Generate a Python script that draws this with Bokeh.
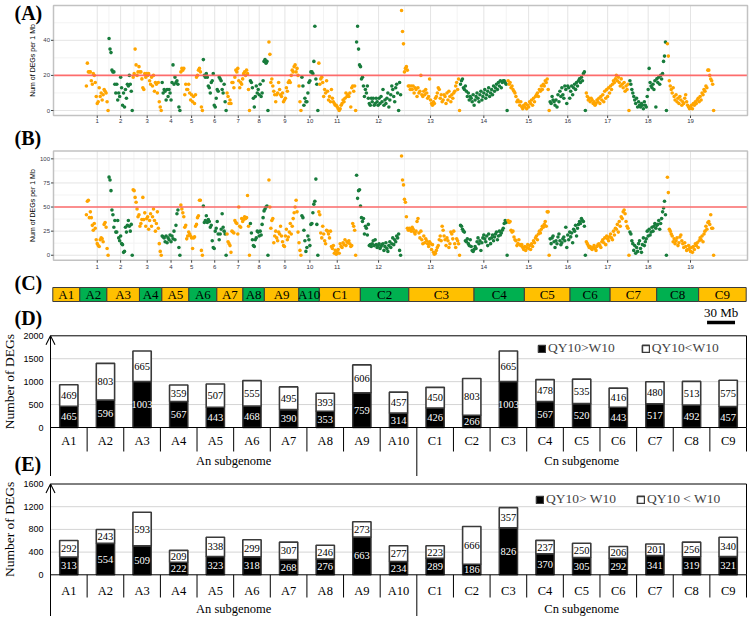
from bokeh.plotting import figure
from bokeh.layouts import column
from bokeh.models import Range1d, Legend, LegendItem, Arrow, OpenHead, ColumnDataSource
from bokeh.core.properties import value
from bokeh.embed import file_html
from bokeh.resources import INLINE

# ---------------- data ----------------
chrom_names = ["A1", "A2", "A3", "A4", "A5", "A6", "A7", "A8", "A9", "A10",
               "C1", "C2", "C3", "C4", "C5", "C6", "C7", "C8", "C9"]
chrom_tick_labels = [str(i) for i in range(1, 20)]
# chromosome lengths (Mb) used on the panels A and B
chrom_len_mb = [23.3, 24.8, 29.8, 19.2, 23.1, 24.4, 24.0, 19.0, 33.9, 17.4,
                38.8, 46.2, 60.6, 48.9, 43.2, 37.2, 44.8, 38.5, 48.5]
# chromosome lengths (Mb) as drawn on the ideogram of panel C
bar_len_mb = [29, 29, 35, 24, 29, 30, 28, 23, 37, 22,
              44, 52, 70, 54, 49, 43, 50, 45, 51]
scale_bar_mb = 30

# (A) number of DEGs per 1 Mb
degs_A = [
    [14, 27, 22, 22, 22, 17, 15, 21, 20, 16, 8, 4, 5, 13, 8, 10, 6, 9, 12, 11, 10, 5, 0],
    [41, 35, 33, 23, 22, 22, 15, 10, 15, 6, 10, 8, 19, 13, 3, 10, 2, 12, 7, 15, 14, 20, 15, 11, 0],
    [19, 21, 35, 26, 20, 22, 25, 22, 22, 18, 13, 12, 21, 19, 21, 20, 21, 17, 15, 19, 14, 20, 11, 16, 15, 10, 16, 5, 2, 0],
    [16, 10, 12, 11, 6, 12, 8, 12, 10, 6, 16, 26, 15, 19, 16, 17, 15, 2, 0],
    [22, 24, 23, 24, 9, 15, 12, 12, 15, 10, 6, 9, 5, 8, 4, 9, 19, 20, 23, 24, 22, 2, 0],
    [29, 20, 19, 21, 19, 14, 13, 10, 16, 17, 21, 3, 2, 7, 12, 11, 19, 18, 17, 12, 10, 15, 5, 0],
    [10, 8, 4, 6, 4, 16, 16, 13, 19, 23, 22, 24, 17, 13, 16, 15, 18, 21, 22, 20, 23, 21, 12, 0],
    [17, 16, 13, 7, 2, 8, 14, 10, 12, 9, 15, 8, 10, 17, 28, 29, 27, 28, 0],
    [39, 32, 16, 18, 14, 11, 9, 5, 9, 10, 16, 12, 9, 8, 10, 5, 6, 7, 13, 11, 16, 17, 16, 20, 23, 22, 25, 26, 22, 24, 20, 14, 5, 0],
    [19, 14, 3, 7, 5, 5, 10, 16, 17, 22, 22, 21, 28, 48, 18, 15, 0],
    [27, 15, 18, 19, 16, 8, 12, 10, 17, 11, 6, 8, 5, 12, 7, 5, 4, 3, 3, 2, 1, 0, 1, 3, 4, 6, 5, 7, 10, 8, 9, 8, 10, 2, 13, 14, 11, 14, 0],
    [39, 48, 35, 26, 25, 18, 19, 14, 8, 12, 10, 14, 7, 4, 3, 7, 5, 7, 3, 4, 7, 5, 3, 7, 4, 8, 5, 12, 3, 6, 4, 7, 10, 2, 6, 9, 14, 12, 8, 5, 13, 15, 10, 0, 16, 9],
    [57, 45, 38, 22, 24, 25, 23, 14, 14, 12, 14, 12, 14, 10, 13, 12, 8, 13, 10, 11, 20, 9, 8, 11, 9, 12, 10, 7, 8, 18, 6, 4, 3, 5, 4, 7, 8, 10, 13, 12, 7, 9, 5, 6, 9, 8, 4, 10, 6, 11, 8, 5, 9, 7, 10, 11, 14, 16, 12, 18, 0],
    [15, 17, 18, 13, 12, 14, 11, 8, 10, 6, 8, 7, 5, 9, 3, 6, 8, 10, 7, 5, 9, 11, 6, 8, 10, 12, 7, 9, 11, 13, 8, 10, 12, 9, 14, 11, 13, 15, 12, 16, 14, 17, 13, 16, 17, 17, 16, 15, 0],
    [17, 15, 16, 13, 14, 12, 11, 10, 8, 5, 6, 5, 3, 5, 2, 1, 3, 2, 4, 1, 3, 2, 5, 4, 6, 3, 7, 5, 8, 9, 10, 8, 12, 11, 14, 12, 15, 14, 17, 16, 18, 12, 0],
    [5, 4, 8, 6, 5, 3, 6, 2, 9, 5, 11, 8, 13, 9, 7, 14, 12, 4, 14, 13, 7, 11, 14, 9, 13, 15, 12, 16, 14, 17, 18, 16, 19, 17, 21, 22, 0],
    [10, 8, 6, 7, 5, 7, 6, 4, 5, 3, 4, 6, 5, 7, 4, 8, 6, 9, 5, 11, 7, 12, 8, 13, 10, 14, 12, 15, 17, 16, 18, 20, 17, 19, 16, 14, 18, 15, 13, 16, 11, 14, 12, 15, 0],
    [17, 15, 12, 10, 8, 6, 4, 7, 2, 5, 3, 2, 4, 3, 1, 5, 3, 2, 8, 12, 24, 16, 14, 13, 15, 12, 17, 2, 18, 16, 19, 15, 20, 18, 21, 28, 31, 39, 0],
    [38, 31, 17, 14, 12, 10, 13, 8, 6, 9, 5, 7, 4, 8, 6, 3, 5, 4, 7, 9, 5, 3, 2, 1, 2, 3, 1, 4, 3, 5, 4, 6, 7, 5, 8, 6, 10, 9, 12, 11, 14, 13, 23, 23, 20, 18, 17, 15, 0],
]
threshold_A = 20

# (B) number of DEGs per 1 Mb
degs_B = [
    [42, 56, 57, 39, 45, 39, 31, 26, 33, 28, 16, 12, 10, 9, 16, 18, 17, 14, 32, 34, 29, 7, 0],
    [81, 78, 67, 47, 42, 29, 36, 24, 24, 36, 18, 15, 20, 12, 11, 3, 4, 29, 24, 31, 36, 30, 25, 32, 0],
    [68, 67, 60, 55, 48, 40, 42, 30, 33, 37, 60, 37, 44, 30, 38, 40, 27, 36, 43, 30, 40, 48, 36, 25, 33, 45, 28, 12, 4, 0],
    [20, 19, 18, 14, 20, 13, 18, 16, 21, 14, 20, 17, 25, 16, 31, 43, 47, 8, 0],
    [52, 48, 44, 40, 29, 31, 17, 20, 24, 22, 20, 18, 7, 18, 19, 30, 32, 39, 41, 57, 57, 5, 0],
    [51, 34, 36, 41, 34, 37, 35, 29, 31, 15, 8, 7, 25, 28, 35, 22, 16, 22, 27, 43, 29, 25, 22, 0],
    [22, 14, 12, 10, 3, 25, 24, 23, 36, 34, 33, 22, 50, 30, 29, 38, 35, 37, 40, 38, 39, 62, 30, 0],
    [33, 23, 16, 10, 9, 16, 18, 25, 24, 20, 25, 21, 32, 39, 46, 48, 50, 51, 0],
    [78, 50, 28, 36, 38, 13, 20, 25, 18, 15, 24, 22, 30, 20, 14, 10, 9, 20, 27, 16, 19, 24, 33, 22, 30, 38, 44, 50, 57, 45, 24, 13, 5, 0],
    [41, 39, 26, 15, 4, 8, 20, 16, 10, 32, 33, 44, 53, 56, 79, 32, 0],
    [45, 42, 23, 18, 30, 22, 15, 12, 26, 25, 22, 18, 25, 9, 7, 10, 2, 5, 1, 3, 6, 2, 12, 9, 8, 13, 11, 16, 10, 14, 13, 15, 12, 9, 10, 33, 30, 26, 0],
    [83, 59, 67, 68, 51, 39, 35, 38, 22, 30, 28, 21, 32, 10, 11, 9, 12, 15, 10, 16, 11, 8, 10, 12, 7, 9, 11, 12, 5, 9, 13, 7, 4, 10, 14, 8, 12, 18, 11, 16, 14, 20, 18, 22, 5, 0],
    [103, 78, 73, 58, 55, 40, 28, 26, 28, 27, 25, 29, 27, 24, 22, 25, 35, 38, 23, 18, 25, 16, 12, 20, 13, 17, 15, 12, 9, 14, 12, 6, 11, 3, 1, 2, 5, 8, 10, 16, 20, 15, 30, 26, 20, 16, 10, 18, 15, 8, 12, 24, 22, 17, 25, 12, 8, 17, 15, 12, 0],
    [31, 30, 27, 25, 24, 15, 14, 17, 12, 10, 16, 9, 5, 4, 6, 9, 7, 14, 18, 12, 15, 5, 13, 18, 21, 17, 14, 20, 10, 22, 17, 12, 18, 21, 15, 19, 22, 24, 16, 20, 25, 21, 23, 26, 28, 33, 36, 34, 0],
    [36, 34, 35, 26, 24, 25, 19, 16, 15, 10, 12, 16, 11, 10, 11, 8, 6, 9, 5, 8, 11, 7, 10, 6, 12, 9, 15, 13, 18, 20, 16, 22, 25, 23, 27, 30, 29, 32, 35, 30, 45, 45, 0],
    [17, 12, 18, 20, 14, 8, 15, 12, 19, 22, 15, 11, 13, 17, 19, 15, 29, 8, 21, 16, 24, 19, 23, 13, 27, 25, 31, 20, 28, 32, 35, 33, 38, 36, 35, 30, 0],
    [14, 12, 10, 8, 9, 7, 6, 8, 10, 7, 5, 9, 11, 12, 10, 8, 14, 16, 13, 18, 11, 20, 17, 15, 19, 22, 18, 16, 25, 21, 28, 27, 32, 24, 35, 30, 40, 38, 45, 47, 43, 35, 30, 28, 0],
    [24, 22, 15, 12, 5, 10, 2, 8, 4, 12, 15, 7, 3, 11, 18, 10, 14, 17, 25, 20, 27, 21, 24, 29, 25, 30, 33, 28, 31, 32, 36, 27, 33, 38, 45, 49, 56, 42, 0],
    [81, 65, 27, 25, 22, 20, 14, 17, 12, 15, 18, 10, 13, 19, 21, 15, 12, 8, 13, 9, 5, 6, 10, 7, 4, 8, 3, 9, 6, 12, 10, 13, 8, 15, 18, 16, 20, 14, 22, 25, 30, 27, 34, 35, 32, 42, 28, 28, 0],
]
threshold_B = 50

# (D) DEGs per chromosome
d_up = [465, 596, 1003, 567, 443, 468, 390, 353, 759, 314, 426, 266, 1003, 567, 520, 443, 517, 492, 457]
d_down = [469, 803, 665, 359, 507, 555, 495, 393, 606, 457, 450, 803, 665, 478, 535, 416, 480, 513, 575]
# (E) DEGs per chromosome
e_up = [313, 554, 509, 222, 323, 318, 268, 276, 663, 234, 289, 186, 826, 370, 305, 292, 341, 319, 321]
e_down = [292, 243, 593, 209, 338, 299, 307, 246, 273, 277, 223, 666, 357, 237, 250, 206, 201, 256, 340]

subgenomes = ["An subgenome", "Cn subgenome"]
n_A = 10

# ---------------- style ----------------
WC = 749
ORANGE = "#FFA500"
GREEN = "#187C3C"
GOLD = "#FFC000"
XLGREEN = "#00B050"
SERIF = "Liberation Serif"
SANS = "Liberation Sans"


def make_fig(H, xv0, xp0, xv1, xp1, yv0, yp0, yv1, yp1):
    """Figure whose frame fills the canvas; data value xv0 sits at pixel xp0 etc."""
    kx = (xp1 - xp0) / (xv1 - xv0)
    x_start = xv0 - xp0 / kx
    ky = (yp0 - yp1) / (yv1 - yv0)
    y_top = yv0 + yp0 / ky
    p = figure(width=WC, height=H, output_backend="svg", toolbar_location=None,
               x_range=Range1d(x_start, x_start + WC / kx),
               y_range=Range1d(y_top - H / ky, y_top),
               x_axis_location=None, y_axis_location=None,
               min_border_left=0, min_border_right=0, min_border_top=0,
               min_border_bottom=0)
    p.outline_line_color = None
    p.grid.visible = False
    X = lambda px: x_start + px / kx
    Y = lambda py: y_top - py / ky
    return p, X, Y


def tag(p, X, Y, text, px, py):
    p.text(x=[X(px)], y=[Y(py)], text=[text], text_font=value(SERIF),
           text_font_size="20px", text_font_style="bold", text_align="left",
           text_baseline="middle", text_color="black")


# ---------------- scatter panels ----------------
cum = [0.0]
for L in chrom_len_mb:
    cum.append(cum[-1] + L)
total = cum[-1]
centers = [cum[k] + chrom_len_mb[k] / 2 for k in range(len(chrom_len_mb))]
mids = [(centers[k] + centers[k + 1]) / 2 for k in range(len(centers) - 1)]


def scatter_panel(data, H, ylo, yp_lo, yhi, yp_hi, yticks, yminor, thr,
                  tag_text, tag_py, xlab_py):
    p, X, Y = make_fig(H, 0, 85.4, total, 713.6, ylo, yp_lo, yhi, yp_hi)
    pl, pr = X(53), X(747)
    grid_minor = "#f3f3f3"
    grid_major = "#e4e4e4"
    p.segment(x0=mids, y0=ylo, x1=mids, y1=yhi, line_color=grid_minor, line_width=1)
    p.segment(x0=pl, y0=yminor, x1=pr, y1=yminor, line_color=grid_minor, line_width=1)
    p.segment(x0=centers, y0=ylo, x1=centers, y1=yhi, line_color=grid_major, line_width=1)
    p.segment(x0=pl, y0=yticks, x1=pr, y1=yticks, line_color=grid_major, line_width=1)
    for k, vals in enumerate(data):
        n = len(vals)
        L = chrom_len_mb[k]
        xs = [cum[k] + (i + 0.5) * L / n for i in range(n)]
        p.scatter(xs, vals, size=3.6, fill_color=ORANGE if k % 2 == 0 else GREEN,
                  line_color=None)
    p.segment(x0=[pl], y0=[thr], x1=[pr], y1=[thr], line_color="#ff5e5e",
              line_width=1.6, line_alpha=0.9)
    p.quad(left=[pl], right=[pr], bottom=[ylo], top=[yhi], fill_color=None,
           line_color="#c2c2c2", line_width=1.5)
    # y axis
    p.segment(x0=X(50.5), y0=yticks, x1=pl, y1=yticks, line_color="#444444", line_width=1)
    p.text(x=X(49.5), y=yticks, text=[f"{t:g}" for t in yticks], text_font=value(SANS),
           text_font_size="6px", text_align="right", text_baseline="middle",
           text_color="#3a3a4a")
    p.text(x=[X(32)], y=[(ylo + yhi) / 2], text=["Num of DEGs per 1 Mb"],
           text_font=value(SANS), text_font_size="7px", angle=90, angle_units="deg",
           text_align="center", text_baseline="middle", text_color="black")
    # x axis
    p.segment(x0=centers, y0=ylo, x1=centers, y1=Y(yp_lo + 2.5), line_color="#444444",
              line_width=1)
    p.text(x=centers, y=Y(xlab_py), text=chrom_tick_labels, text_font=value(SANS),
           text_font_size="6px", text_align="center", text_baseline="middle",
           text_color="#333344")
    tag(p, X, Y, tag_text, 14, tag_py)
    return p


pA = scatter_panel(degs_A, 126, -2.85, 115, 59.85, 5, [0, 20, 40], [10, 30, 50],
                   threshold_A, "(A)", 12, 120)
pB = scatter_panel(degs_B, 146, -5.15, 133.7, 108.15, 24.5, [0, 25, 50, 75, 100],
                   [12.5, 37.5, 62.5, 87.5], threshold_B, "(B)", 11, 140.5)

# ---------------- ideogram (C) ----------------
bcum = [0]
for L in bar_len_mb:
    bcum.append(bcum[-1] + L)
btotal = bcum[-1]
pC, XC, YC = make_fig(58, 0, 52.3, btotal, 745.7, 0, 58, 58, 0)
csrc = ColumnDataSource(dict(
    left=bcum[:-1], right=bcum[1:],
    mid=[(a + b) / 2 for a, b in zip(bcum[:-1], bcum[1:])],
    name=chrom_names,
    color=[GOLD if k % 2 == 0 else XLGREEN for k in range(len(bar_len_mb))]))
pC.quad(left="left", right="right", bottom=YC(29), top=YC(15), fill_color="color",
        line_color="#3c3c3c", line_width=1, source=csrc)
pC.text(x="mid", y=YC(22), text="name", source=csrc, text_font=value(SERIF),
        text_font_size="13px", text_align="center", text_baseline="middle",
        text_color="black")
sb_end = btotal - 12
pC.segment(x0=[sb_end - scale_bar_mb], y0=[YC(50)], x1=[sb_end], y1=[YC(50)],
           line_color="black", line_width=3.5)
pC.text(x=[sb_end - scale_bar_mb / 2], y=[YC(40)], text=[f"{scale_bar_mb} Mb"],
        text_font=value(SERIF), text_font_size="13px", text_align="center",
        text_baseline="middle", text_color="black")
tag(pC, XC, YC, "(C)", 14, 10.5)
tag(pC, XC, YC, "(D)", 14, 45)


# ---------------- stacked bar panels (D, E) ----------------
def bar_panel(up, down, ymax, step, H, yp0, yp_max, lab_py, grp_py, tick_py,
              leg_labels, leg_loc, leg_spacing):
    n = len(up)
    p, X, Y = make_fig(H, 0, 50, n, 746, 0, yp0, ymax, yp_max)
    ybot = Y(H)
    grid = list(range(step, ymax, step))
    p.segment(x0=0, y0=grid, x1=n, y1=grid, line_color="#d4d4d4", line_width=1)

    src = ColumnDataSource(dict(
        x=[i + 0.5 for i in range(n)], up=up, total=[a + b for a, b in zip(up, down)],
        up_mid=[a / 2 for a in up], down_mid=[a + b / 2 for a, b in zip(up, down)],
        up_lab=[str(a) for a in up], down_lab=[str(b) for b in down],
        name=chrom_names))
    r_up = p.vbar(x="x", bottom=0, top="up", width=0.5, fill_color="black",
                  line_color="#3a3a3a", line_width=1.4, source=src)
    r_dn = p.vbar(x="x", bottom="up", top="total", width=0.5, fill_color="white",
                  line_color="#3a3a3a", line_width=1.6, source=src)
    p.text(x="x", y="up_mid", text="up_lab", source=src, text_font=value(SERIF),
           text_font_size="10.5px", text_align="center", text_baseline="middle",
           text_color="white")
    p.text(x="x", y="down_mid", text="down_lab", source=src, text_font=value(SERIF),
           text_font_size="10.5px", text_align="center", text_baseline="middle",
           text_color="black")
    # plot-area lines: top, right, baseline, y axis
    p.segment(x0=[0, n, 0, 0], y0=[ymax, 0, 0, ybot], x1=[n, n, n, 0],
              y1=[ymax, ymax, 0, ymax], line_color="black", line_width=1)
    # y axis tick labels
    yt = list(range(0, ymax + 1, step))
    p.text(x=X(43), y=yt, text=[str(t) for t in yt], text_font=value(SANS),
           text_font_size="9px", text_align="right", text_baseline="middle",
           text_color="black")
    p.text(x=[X(9)], y=[ymax / 2], text=["Number of DEGs"], text_font=value(SERIF),
           text_font_size="13.5px", angle=90, angle_units="deg", text_align="center",
           text_baseline="middle", text_color="black")
    # category separators
    x0s, y1s = [], []
    for b in range(1, n + 1):
        x0s.append(b)
        y1s.append(ybot if b == n_A else Y(tick_py))
    p.segment(x0=x0s, y0=0, x1=x0s, y1=y1s, line_color="black", line_width=1)
    p.text(x="x", y=Y(lab_py), text="name", source=src, text_font=value(SERIF),
           text_font_size="12.5px", text_align="center", text_baseline="middle",
           text_color="black")
    p.text(x=[n_A / 2, (n_A + n) / 2], y=Y(grp_py), text=subgenomes,
           text_font=value(SERIF), text_font_size="12.5px", text_align="center",
           text_baseline="middle", text_color="black")
    p.add_layout(Arrow(end=OpenHead(size=9, line_width=1.1, line_color="black"),
                       x_start=0, y_start=ymax * 0.6, x_end=0, y_end=ymax,
                       line_color="black", line_width=1))
    leg = Legend(items=[LegendItem(label=leg_labels[0], renderers=[r_up]),
                        LegendItem(label=leg_labels[1], renderers=[r_dn])],
                 location=leg_loc, orientation="horizontal", glyph_width=9,
                 glyph_height=9, label_standoff=2, spacing=leg_spacing, padding=0,
                 margin=0, label_text_font=SERIF, label_text_font_size="13.5px",
                 label_height=16, border_line_color=None, background_fill_alpha=0)
    p.add_layout(leg)
    return p, X, Y


pD, XD, YD = bar_panel(d_up, d_down, 2000, 500, 146, 97, 5.3, 110, 130, 121,
                       ["QY10>W10", "QY10<W10"], (537, 120), 26)
tag(pD, XD, YD, "(E)", 14, 133.5)

pE, XE, YE = bar_panel(e_up, e_down, 1600, 400, 140, 98.3, 7.5, 114, 132, 121,
                       ["QY10> W10", "QY10 < W10"], (535, 109), 20)

layout = column(pA, pB, pC, pD, pE, spacing=0)
open("out.html", "w").write(file_html(layout, INLINE))
